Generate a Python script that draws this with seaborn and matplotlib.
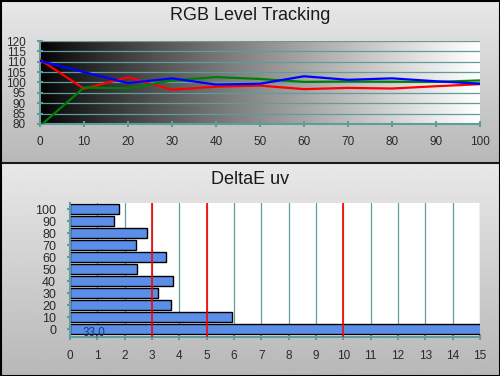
import numpy as np
import pandas as pd
import matplotlib
matplotlib.use("Agg")
import matplotlib.pyplot as plt
import seaborn as sns

# ---- data ----
levels = [0, 10, 20, 30, 40, 50, 60, 70, 80, 90, 100]
red = [111.0, 97.0, 102.5, 96.5, 98.0, 98.5, 96.8, 97.4, 97.1, 98.2, 99.2]
green = [79.0, 97.6, 97.2, 101.0, 102.6, 101.7, 100.3, 100.5, 100.4, 100.3, 101.0]
blue = [110.4, 105.0, 99.7, 102.0, 99.0, 99.4, 103.0, 101.3, 102.0, 100.6, 99.4]

de_labels = ["100", "90", "80", "70", "60", "50", "40", "30", "20", "10", "0"]
de_values = [1.78, 1.62, 2.83, 2.43, 3.52, 2.46, 3.78, 3.23, 3.71, 5.94, 33.0]
de_text = "33,0"

sns.set_theme(style="white")
plt.rcParams["font.family"] = ["Liberation Sans", "DejaVu Sans"]

W, H = 500, 376
fig = plt.figure(figsize=(W / 100, H / 100), dpi=100)

def px(x0, y0, x1, y1):
    return [x0 / W, 1 - y1 / H, (x1 - x0) / W, (y1 - y0) / H]

# background panels
bg = fig.add_axes([0, 0, 1, 1])
bg.set_xlim(0, W)
bg.set_ylim(H, 0)
bg.axis("off")
g = np.linspace(0.91, 0.72, 256).reshape(-1, 1)
bg.imshow(g, extent=[0, W, 163, 0], aspect="auto", cmap="gray", vmin=0, vmax=1, zorder=0)
bg.imshow(g, extent=[0, W, H, 163], aspect="auto", cmap="gray", vmin=0, vmax=1, zorder=0)
bg.plot([0, W], [163, 163], color="#1a1a1a", lw=1.5, zorder=2)
bg.plot([0.5, W - 0.5, W - 0.5, 0.5, 0.5], [0.5, 0.5, H - 0.5, H - 0.5, 0.5], color="black", lw=1.5, zorder=3)
bg.text(250, 15, "RGB Level Tracking", ha="center", va="center", fontsize=13, color="#1a1a1a")
bg.text(250, 180, "DeltaE uv", ha="center", va="center", fontsize=13, color="#1a1a1a")

teal = "#5f9c9a"
txt = "#2a2a2a"

# ---- top: RGB tracking ----
ax1 = fig.add_axes(px(40, 41, 480, 124))
grad = (np.linspace(0, 1, 256) ** 0.85).reshape(1, -1)
ax1.imshow(grad, extent=[0, 100, 80, 120], aspect="auto", cmap="gray", vmin=0, vmax=1, zorder=0)
df = pd.DataFrame({
    "level": levels * 3,
    "value": red + green + blue,
    "ch": ["R"] * 11 + ["G"] * 11 + ["B"] * 11,
})
sns.lineplot(data=df, x="level", y="value", hue="ch", hue_order=["R", "G", "B"],
             palette={"R": "#ff0000", "G": "#008000", "B": "#0000ff"},
             linewidth=1.6, legend=False, ax=ax1, zorder=3)
ax1.set_xlim(0, 100)
ax1.set_ylim(80, 120)
ax1.set_xticks(levels)
ax1.set_yticks(range(80, 121, 5))
for yv in range(85, 121, 5):
    ax1.axhline(yv, color=teal, lw=0.9, zorder=1)
ax1.set_xlabel("")
ax1.set_ylabel("")
for s in ["top", "right"]:
    ax1.spines[s].set_visible(False)
for s in ["left", "bottom"]:
    ax1.spines[s].set_color(teal)
    ax1.spines[s].set_linewidth(1.5)
ax1.tick_params(axis="x", direction="inout", length=5, width=1.5, color=teal,
                labelsize=8.5, labelcolor=txt, pad=6, bottom=True)
ax1.tick_params(axis="y", direction="inout", length=4, width=1.5, color=teal,
                labelsize=8.5, labelcolor=txt, pad=8, left=True)
ax1.set_facecolor("none")

# ---- bottom: DeltaE uv ----
ax2 = fig.add_axes(px(70, 203, 480, 336.5))
ax2.set_facecolor("white")
dd = pd.DataFrame({"lvl": de_labels, "de": de_values})
for xv in range(1, 16):
    ax2.axvline(xv, color=teal, lw=0.9, zorder=0)
sns.barplot(data=dd, x="de", y="lvl", order=de_labels, orient="h",
            color="#5b8ee8", saturation=1, edgecolor="black", linewidth=1,
            width=0.82, ax=ax2, zorder=2)
for xv in [3, 5, 10]:
    ax2.axvline(xv, color="#ff0000", lw=1.2, zorder=3)
ax2.set_xlim(0, 15)
ax2.set_ylim(10.6, -0.5)
ax2.set_xticks(range(0, 16))
ax2.text(0.45, 10.25, de_text, ha="left", va="center", fontsize=8.5, color="#1f3a78", zorder=4)
ax2.set_xlabel("")
ax2.set_ylabel("")
for s in ["top", "right"]:
    ax2.spines[s].set_visible(False)
for s in ["left", "bottom"]:
    ax2.spines[s].set_color(teal)
    ax2.spines[s].set_linewidth(1.5)
ax2.tick_params(axis="x", direction="inout", length=5, width=1.5, color=teal,
                labelsize=8.5, labelcolor=txt, pad=7, bottom=True)
ax2.tick_params(axis="y", direction="inout", length=4, width=1.5, color=teal,
                labelsize=9, labelcolor=txt, pad=8, left=True)

fig.savefig("out.png", dpi=100)
